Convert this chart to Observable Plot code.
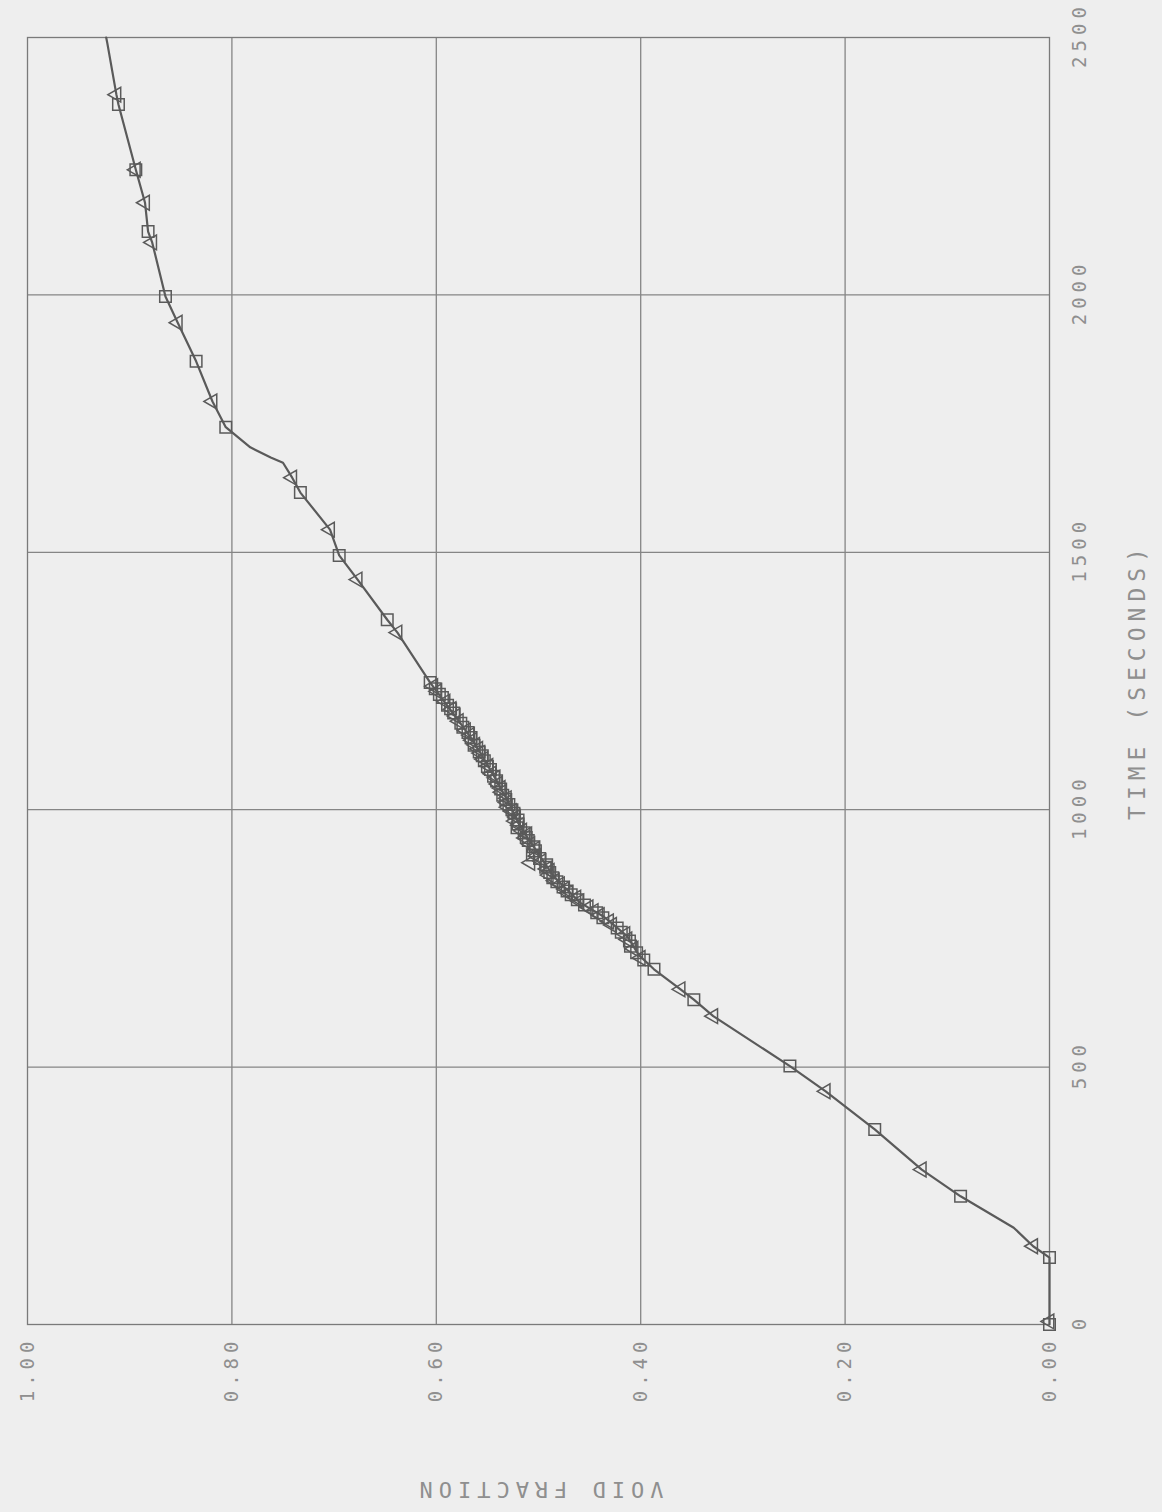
<!DOCTYPE html>
<html>
<head>
<meta charset="utf-8">
<script src="https://cdn.jsdelivr.net/npm/d3@7"></script>
<script src="https://cdn.jsdelivr.net/npm/@observablehq/plot@0.6"></script>
<style>
  html, body { margin: 0; padding: 0; background: #eeeeee; width: 1162px; height: 1512px; overflow: hidden; }
  #wrap { position: relative; width: 1162px; height: 1512px; }
  #wrap svg { position: absolute; left: 0; top: 0; transform-origin: 0 0; transform: translate(0px, 1512px) rotate(-90deg); max-width: none !important; }
  .tick-text text { letter-spacing: 5px; }
  .title-text text { letter-spacing: 6px; }
</style>
</head>
<body>
<div id="wrap"></div>
<script>
// Axis ticks
const timeTicks = [0, 500, 1000, 1500, 2000, 2500];
const voidTicks = [0, 0.2, 0.4, 0.6, 0.8, 1.0];
const xLabel = "TIME (SECONDS)";
const yLabel = "VOID FRACTION";

// Curve (time in s, void fraction)
const lineTime = [0, 130, 152, 188, 249, 301, 379, 453, 502, 599, 631, 651, 690, 718, 754, 792, 819, 870, 917, 967, 1006, 1053, 1111, 1142, 1175, 1247, 1344, 1369, 1447, 1494, 1544, 1616, 1645, 1674, 1684, 1704, 1743, 1793, 1871, 1946, 1997, 2102, 2123, 2179, 2243, 2370, 2389, 2490, 2500];
const lineVoid = [0.000, 0.000, 0.016, 0.035, 0.087, 0.125, 0.171, 0.219, 0.254, 0.329, 0.348, 0.361, 0.387, 0.402, 0.413, 0.436, 0.459, 0.485, 0.501, 0.518, 0.527, 0.540, 0.557, 0.567, 0.579, 0.606, 0.638, 0.648, 0.677, 0.695, 0.704, 0.733, 0.741, 0.750, 0.762, 0.782, 0.806, 0.819, 0.835, 0.853, 0.865, 0.878, 0.882, 0.885, 0.894, 0.911, 0.913, 0.922, 0.923];

// Square markers
const squareTime = [0, 130, 249, 379, 502, 631, 690, 708, 722, 735, 745, 762, 770, 790, 800, 815, 825, 835, 842, 850, 860, 868, 878, 888, 893, 905, 912, 920, 928, 940, 946, 955, 965, 972, 980, 993, 1000, 1010, 1020, 1028, 1040, 1056, 1065, 1078, 1084, 1095, 1105, 1112, 1125, 1140, 1150, 1160, 1168, 1188, 1196, 1203, 1218, 1224, 1235, 1247, 1369, 1494, 1616, 1743, 1871, 1997, 2123, 2243, 2370];
const squareVoid = [0.000, 0.000, 0.087, 0.171, 0.254, 0.348, 0.387, 0.397, 0.404, 0.410, 0.411, 0.419, 0.423, 0.437, 0.443, 0.455, 0.462, 0.468, 0.472, 0.476, 0.482, 0.486, 0.489, 0.493, 0.492, 0.499, 0.506, 0.503, 0.505, 0.510, 0.512, 0.514, 0.521, 0.520, 0.520, 0.524, 0.526, 0.529, 0.532, 0.535, 0.537, 0.541, 0.544, 0.547, 0.550, 0.553, 0.555, 0.558, 0.563, 0.566, 0.569, 0.574, 0.576, 0.583, 0.586, 0.589, 0.594, 0.597, 0.601, 0.606, 0.648, 0.695, 0.733, 0.806, 0.835, 0.865, 0.882, 0.894, 0.911];

// Triangle markers
const triTime = [6, 152, 301, 453, 599, 651, 712, 730, 748, 758, 776, 783, 795, 803, 810, 822, 829, 838, 846, 855, 862, 873, 881, 885, 897, 900, 910, 924, 933, 945, 952, 959, 970, 978, 986, 997, 1005, 1014, 1022, 1034, 1042, 1050, 1062, 1070, 1085, 1098, 1110, 1118, 1126, 1135, 1145, 1154, 1172, 1182, 1195, 1210, 1230, 1240, 1344, 1447, 1544, 1645, 1793, 1946, 2102, 2179, 2243, 2389];
const triVoid = [0.000, 0.016, 0.125, 0.219, 0.329, 0.361, 0.400, 0.407, 0.413, 0.415, 0.428, 0.431, 0.440, 0.446, 0.451, 0.460, 0.463, 0.471, 0.474, 0.479, 0.484, 0.490, 0.489, 0.492, 0.508, 0.497, 0.502, 0.503, 0.508, 0.513, 0.511, 0.516, 0.519, 0.523, 0.522, 0.526, 0.530, 0.531, 0.531, 0.536, 0.537, 0.540, 0.542, 0.546, 0.549, 0.554, 0.557, 0.559, 0.562, 0.565, 0.567, 0.571, 0.578, 0.581, 0.585, 0.591, 0.599, 0.603, 0.638, 0.677, 0.704, 0.741, 0.819, 0.853, 0.878, 0.885, 0.894, 0.913];

const lineData = lineTime.map((t, i) => ({t, v: lineVoid[i]}));
const squares = squareTime.map((t, i) => ({t, v: squareVoid[i]}));
const triangles = triTime.map((t, i) => ({t, v: triVoid[i]}));

const ink = "#5a5a5a";
const textInk = "#8f8f8f";
const chart = Plot.plot({
  width: 1512,
  height: 1162,
  marginLeft: 187,
  marginRight: 38,
  marginTop: 27,
  marginBottom: 113,
  style: {background: "#eeeeee", fontFamily: "'DejaVu Sans Mono', monospace", color: textInk, maxWidth: "none"},
  x: {domain: [0, 2500], axis: null},
  y: {domain: [0, 1], axis: null},
  marks: [
    Plot.gridX({ticks: timeTicks.slice(1, -1), stroke: "#858585", strokeOpacity: 1, strokeWidth: 1.3}),
    Plot.gridY({ticks: voidTicks.slice(1, -1), stroke: "#858585", strokeOpacity: 1, strokeWidth: 1.3}),
    Plot.frame({stroke: "#7a7a7a", strokeWidth: 1.3}),
    // tick labels
    Plot.text(timeTicks, {x: d => d, frameAnchor: "bottom", lineAnchor: "top", textAnchor: "middle", dy: 23, dx: 2.5, text: d => String(d), fontSize: 19, fill: textInk, className: "tick-text"}),
    Plot.text(voidTicks, {y: d => d, frameAnchor: "left", textAnchor: "end", dx: -12, text: d => d.toFixed(2), fontSize: 19, fill: textInk, className: "tick-text"}),
    Plot.line(lineData, {x: "t", y: "v", stroke: ink, strokeWidth: 2.2}),
    Plot.dot(squares, {x: "t", y: "v", symbol: "square", r: 6.5, stroke: ink, strokeWidth: 1.5, fill: "none"}),
    Plot.dot(triangles, {x: "t", y: "v", symbol: "triangle", r: 5.5, stroke: ink, strokeWidth: 1.5, fill: "none"}),
    Plot.text([xLabel], {frameAnchor: "bottom", textAnchor: "middle", dy: 95, fontSize: 23, fill: textInk, className: "title-text"}),
    Plot.text([yLabel], {frameAnchor: "left", textAnchor: "middle", dx: -165, rotate: -90, fontSize: 22, fill: textInk, className: "title-text"})
  ]
});
document.getElementById("wrap").appendChild(chart);
</script>
</body>
</html>
